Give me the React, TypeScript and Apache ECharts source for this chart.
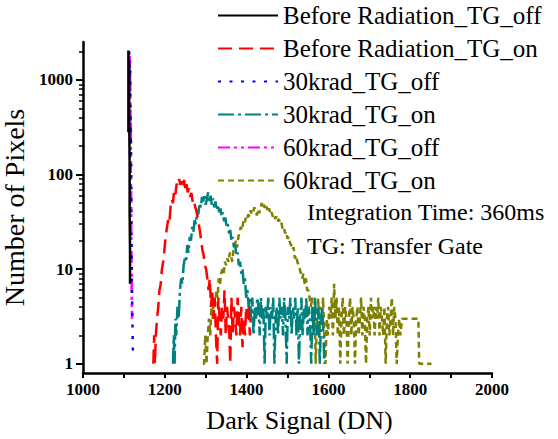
import React, { useEffect, useRef } from "react";
import * as echarts from "echarts";

const seriesNames = [
  "Before Radiation_TG_off",
  "Before Radiation_TG_on",
  "30krad_TG_off",
  "30krad_TG_on",
  "60krad_TG_off",
  "60krad_TG_on",
];

const xLabelTicks = [1000, 1200, 1400, 1600, 1800, 2000];
const xAllTicks = [1000, 1100, 1200, 1300, 1400, 1500, 1600, 1700, 1800, 1900, 2000];
const yMajorTicks = [1, 10, 100, 1000];
const yMinorTicks = [2, 3, 4, 5, 6, 7, 8, 9, 20, 30, 40, 50, 60, 70, 80, 90, 200, 300, 400, 500, 600, 700, 800, 900, 2000];

const beforeOff = [
  [1111, 280], [1111, 2050], [1112, 900], [1113, 1500], [1113, 400], [1114, 120],
  [1114, 40], [1115, 15], [1115, 7],
];

const krad30Off = [
  [1113, 2000], [1114, 1000], [1115, 1600], [1116, 500], [1116, 200], [1117, 300],
  [1118, 80], [1118, 30], [1119, 12], [1120, 5], [1121, 2.5], [1122, 1.3],
];

const krad60Off = [
  [1114, 1800], [1115, 900], [1115, 1400], [1116, 600], [1116, 250], [1117, 400],
  [1117, 100], [1118, 50], [1118, 20], [1119, 9], [1119, 5], [1120, 3],
];

const beforeOn = [
  [1172, 1], [1174, 2], [1176, 1], [1178, 2], [1181, 3], [1184, 4], [1187, 6], [1190, 7],
  [1193, 10], [1196, 12], [1199, 16], [1202, 22], [1205, 27], [1208, 33], [1211, 30],
  [1214, 45], [1217, 55], [1220, 50], [1223, 70], [1226, 62], [1229, 80], [1232, 75],
  [1235, 90], [1238, 78], [1241, 85], [1244, 72], [1247, 88], [1250, 70], [1253, 80],
  [1256, 65], [1259, 72], [1262, 58], [1265, 64], [1268, 52], [1271, 55], [1274, 46],
  [1277, 42], [1280, 36], [1283, 30], [1286, 25], [1289, 20], [1292, 16], [1295, 14],
  [1298, 11], [1301, 10], [1304, 8], [1307, 6], [1310, 8], [1313, 4], [1316, 6], [1319, 3],
  [1322, 5], [1325, 2], [1328, 1], [1331, 5], [1334, 3], [1337, 2], [1340, 4], [1343, 3],
  [1346, 6], [1349, 2], [1352, 4], [1355, 3], [1358, 2], [1360, 1], [1363, 5], [1366, 2],
  [1369, 4], [1372, 3], [1375, 2], [1378, 5], [1381, 3], [1384, 2], [1387, 4], [1390, 1.5],
  [1393, 3], [1396, 2], [1399, 4], [1402, 3], [1405, 4], [1408, 2], [1410, 3],
];

const krad30On = [
  [1220, 1], [1222, 2], [1224, 1], [1226, 3], [1228, 2], [1231, 4], [1234, 3], [1237, 6],
  [1240, 8], [1243, 7], [1246, 11], [1249, 13], [1252, 12], [1255, 18], [1258, 15],
  [1261, 22], [1264, 20], [1267, 28], [1270, 25], [1273, 33], [1276, 30], [1279, 42],
  [1282, 38], [1285, 50], [1288, 45], [1291, 58], [1294, 52], [1297, 62], [1300, 48],
  [1303, 55], [1306, 65], [1309, 50], [1312, 60], [1315, 48], [1318, 56], [1321, 45],
  [1324, 52], [1327, 42], [1330, 48], [1333, 40], [1336, 44], [1339, 36], [1342, 40],
  [1345, 32], [1348, 35], [1351, 28], [1354, 30], [1357, 24], [1360, 26], [1363, 20],
  [1366, 22], [1369, 17], [1372, 18], [1375, 14], [1378, 15], [1381, 11], [1384, 12],
  [1387, 9], [1390, 10], [1393, 7], [1396, 8], [1399, 5], [1402, 6], [1405, 4], [1408, 5],
  [1411, 3], [1414, 5], [1417, 2], [1420, 4], [1423, 3], [1426, 5], [1429, 4], [1432, 2],
  [1435, 5], [1438, 3], [1441, 4], [1444, 1], [1447, 4], [1450, 3], [1453, 5], [1456, 2],
  [1459, 4], [1462, 3], [1465, 5], [1468, 1], [1471, 3], [1474, 4], [1477, 2], [1480, 5],
  [1483, 3], [1486, 4], [1489, 2], [1492, 5], [1495, 3], [1498, 1], [1501, 4], [1504, 3],
  [1507, 5], [1510, 2], [1513, 4], [1516, 3], [1519, 5], [1522, 2], [1525, 4], [1528, 1],
  [1531, 3], [1534, 5], [1537, 2], [1540, 4], [1543, 3], [1546, 5], [1549, 2], [1552, 4],
  [1555, 3], [1558, 1], [1561, 4], [1564, 2], [1567, 5], [1570, 3], [1573, 2], [1576, 4],
  [1579, 1], [1582, 3], [1585, 4], [1588, 2], [1590, 1],
];

const krad60On = [
  [1293, 1], [1296, 1], [1299, 2], [1302, 1], [1305, 2], [1308, 3], [1311, 2], [1314, 4],
  [1317, 3], [1320, 5], [1323, 4], [1326, 6], [1329, 5], [1332, 8], [1335, 7], [1338, 9],
  [1341, 10], [1344, 9], [1347, 12], [1350, 11], [1353, 13], [1356, 12], [1359, 15],
  [1362, 14], [1365, 12], [1368, 16], [1371, 18], [1374, 20], [1377, 17], [1380, 22],
  [1383, 25], [1386, 28], [1389, 26], [1392, 32], [1395, 30], [1398, 35], [1401, 33],
  [1404, 38], [1407, 36], [1410, 42], [1413, 38], [1416, 40], [1419, 45], [1422, 41],
  [1425, 37], [1428, 43], [1431, 39], [1434, 45], [1437, 50], [1440, 44], [1443, 48],
  [1446, 42], [1449, 46], [1452, 40], [1455, 44], [1458, 38], [1461, 40], [1464, 36],
  [1467, 38], [1470, 34], [1473, 36], [1476, 32], [1479, 34], [1482, 30], [1485, 31],
  [1488, 27], [1491, 28], [1494, 24], [1497, 25], [1500, 21], [1503, 22], [1506, 19],
  [1509, 18], [1512, 16], [1515, 17], [1518, 13], [1521, 14], [1524, 12], [1527, 11],
  [1530, 10], [1533, 9], [1536, 8], [1539, 9], [1542, 7], [1545, 8], [1548, 6], [1551, 6],
  [1554, 5], [1557, 4], [1560, 5], [1563, 3], [1566, 4], [1569, 1], [1572, 3], [1575, 5],
  [1578, 2], [1581, 4], [1584, 3], [1587, 5], [1590, 2], [1593, 1], [1596, 3], [1599, 2],
  [1602, 4], [1605, 3], [1608, 5], [1611, 2], [1614, 7], [1617, 3], [1620, 5], [1623, 2],
  [1626, 4], [1629, 1], [1632, 3], [1635, 5], [1638, 2], [1641, 4], [1644, 3], [1647, 1],
  [1650, 3], [1653, 5], [1656, 2], [1659, 4], [1662, 3], [1665, 1], [1668, 3], [1671, 4],
  [1674, 2], [1677, 3], [1680, 5], [1683, 2], [1686, 4], [1689, 3], [1692, 1], [1695, 3],
  [1698, 4], [1701, 2], [1704, 5], [1707, 3], [1710, 4], [1713, 2], [1716, 4], [1719, 3],
  [1722, 5], [1725, 2], [1728, 4], [1731, 3], [1734, 2], [1737, 4], [1740, 1], [1743, 3],
  [1746, 4], [1749, 2], [1752, 3], [1755, 5], [1758, 2], [1761, 4], [1764, 3], [1767, 1],
  [1770, 2], [1773, 3], [1776, 2], [1780, 3], [1790, 3], [1800, 3], [1810, 3], [1820, 3],
  [1822, 1], [1830, 1], [1840, 1], [1852, 1],
];

const seriesData = [beforeOff, beforeOn, krad30Off, krad30On, krad60Off, krad60On];
const seriesColors = ["#000000", "#ff0000", "#0000ff", "#008080", "#ff00ff", "#808000"];
const seriesDash: any[] = ["solid", [14, 7], [3, 8.5], [16, 4, 3, 4], [12, 4, 3, 4, 3, 4], [6, 4]];

const FONT = "Liberation Serif";

export default function App() {
  const ref = useRef<HTMLDivElement>(null);
  useEffect(() => {
    if (!ref.current) return;
    const chart = echarts.init(ref.current, null, { renderer: "svg" });
    chart.setOption({
      animation: false,
      backgroundColor: "#ffffff",
      textStyle: { fontFamily: FONT, color: "#000" },
      grid: { left: 83, right: 66, top: 42, bottom: 66, containLabel: false, outerBoundsMode: "none" },
      legend: {
        orient: "vertical",
        left: 217,
        top: 3,
        padding: 0,
        itemWidth: 60,
        itemHeight: 14,
        itemGap: 8,
        data: seriesNames,
        itemStyle: { opacity: 0, borderWidth: 0 },
        textStyle: { fontFamily: FONT, fontSize: 25, color: "#000", lineHeight: 24 },
      },
      xAxis: {
        type: "value",
        min: 1000,
        max: 2000,
        interval: 100,
        name: "Dark Signal (DN)",
        nameLocation: "middle",
        nameGap: 34,
        nameTextStyle: { fontFamily: FONT, fontSize: 26, color: "#000", padding: [0, 0, 0, 24] },
        axisLine: { show: true, lineStyle: { color: "#000", width: 2.5 } },
        axisTick: { show: true, length: 5, customValues: xAllTicks, lineStyle: { color: "#000", width: 2 } },
        splitLine: { show: false },
        axisLabel: {
          show: true,
          customValues: xLabelTicks,
          fontFamily: FONT,
          fontWeight: "bold",
          fontSize: 17,
          color: "#000",
          margin: 8,
          formatter: (v: number) => String(Math.round(v)),
        },
      },
      yAxis: [
        {
          type: "log",
          logBase: 10,
          min: 0.8,
          max: 2520,
          position: "left",
          name: "Number of Pixels",
          nameLocation: "middle",
          nameRotate: 90,
          nameGap: 48,
          nameTextStyle: { fontFamily: FONT, fontSize: 28, color: "#000" },
          axisLine: { show: true, lineStyle: { color: "#000", width: 2.5 } },
          axisTick: { show: true, length: 7, customValues: yMajorTicks, lineStyle: { color: "#000", width: 2 } },
          splitLine: { show: false },
          axisLabel: {
            show: true,
            customValues: yMajorTicks,
            fontFamily: FONT,
            fontWeight: "bold",
            fontSize: 17,
            color: "#000",
            margin: 10,
            formatter: (v: number) => String(Math.round(v)),
          },
        },
        {
          type: "log",
          logBase: 10,
          min: 0.8,
          max: 2520,
          position: "left",
          axisLine: { show: false },
          axisTick: { show: true, length: 4, customValues: yMinorTicks, lineStyle: { color: "#000", width: 1.5 } },
          splitLine: { show: false },
          axisLabel: { show: false },
        },
      ],
      graphic: [
        {
          type: "text",
          left: 307,
          top: 200,
          style: { text: "Integration Time: 360ms", font: `24px "${FONT}"`, fill: "#000" },
        },
        {
          type: "text",
          left: 307,
          top: 234,
          style: { text: "TG: Transfer Gate", font: `24px "${FONT}"`, fill: "#000" },
        },
      ],
      series: seriesNames.map((name, i) => ({
        name,
        type: "line",
        xAxisIndex: 0,
        yAxisIndex: 0,
        data: seriesData[i],
        symbol: "none",
        showSymbol: false,
        color: seriesColors[i],
        lineStyle: { color: seriesColors[i], width: 2.5, type: seriesDash[i] },
        z: 10 - i,
      })),
    });
    return () => chart.dispose();
  }, []);
  return (
    <div
      ref={ref}
      style={{ position: "absolute", left: 0, top: 0, width: 558, height: 439, background: "#fff" }}
    />
  );
}
